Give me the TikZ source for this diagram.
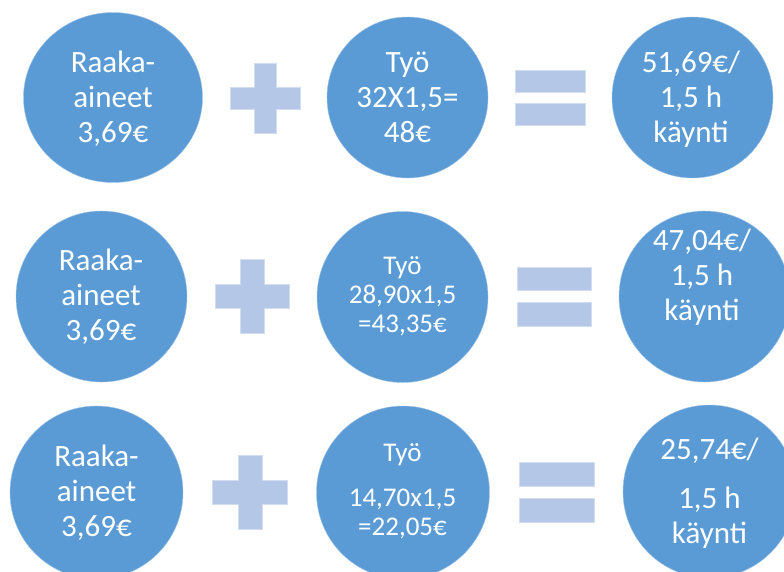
\documentclass[tikz,border=0pt]{standalone}
\usepackage{fontspec}
\setmainfont{Carlito}
\usetikzlibrary{shapes.geometric}
\definecolor{circblue}{HTML}{5B9BD5}
\definecolor{oplight}{HTML}{B4C7E7}
\tikzset{
  disc/.style={circle, fill=circblue, draw=circblue!60!white, line width=0.4pt, inner sep=0pt},
  oval/.style={ellipse, fill=circblue, draw=circblue!60!white, line width=0.4pt, inner sep=0pt},
  bigtxt/.style={anchor=base, text=white, inner sep=0pt, font=\fontsize{31}{35}\selectfont},
  smalltxt/.style={anchor=base, text=white, inner sep=0pt, font=\fontsize{27}{29}\selectfont},
  opshape/.style={fill=oplight, draw=oplight!60!white, line width=0.4pt}
}
\begin{document}
\begin{tikzpicture}[x=1pt,y=-1pt]
\useasboundingbox (0,0) rectangle (784,571);
\clip (0,0) rectangle (784,571);
% ---------- Row 1 ----------
\node[oval, minimum width=179pt, minimum height=170pt] (a1) at (113,97.5) {};
\node[disc, minimum size=161pt] (b1) at (407.5,97.5) {};
\node[disc, minimum size=161pt] (c1) at (692.5,97.5) {};
\node[bigtxt] (a1l1) at (113,72) {Raaka-};
\node[bigtxt] (a1l2) at (113,107) {aineet};
\node[bigtxt] (a1l3) at (113,142) {3,69€};
\node[bigtxt] (b1l1) at (407.5,72) {Työ};
\node[bigtxt] (b1l2) at (407.5,107) {32X1,5=};
\node[bigtxt] (b1l3) at (407.5,142) {48€};
\node[bigtxt] (c1l1) at (691,72) {51,69€/};
\node[bigtxt] (c1l2) at (691,107) {1,5 h};
\node[bigtxt] (c1l3) at (691,142) {käynti};
\fill[opshape] (230,87) -- (254,87) -- (254,63) -- (276,63) -- (276,87) -- (300,87) -- (300,109) -- (276,109) -- (276,133) -- (254,133) -- (254,109) -- (230,109) -- cycle;
\fill[opshape] (515,70) rectangle (585,92);
\fill[opshape] (515,103) rectangle (585,125);
% ---------- Row 2 ----------
\node[disc, minimum size=171pt] (a2) at (101.5,296.5) {};
\node[disc, minimum size=171pt] (b2) at (402.5,297) {};
\node[disc, minimum size=171pt] (c2) at (704.5,296.5) {};
\node[bigtxt] (a2l1) at (101,270) {Raaka-};
\node[bigtxt] (a2l2) at (101,305) {aineet};
\node[bigtxt] (a2l3) at (101,340) {3,69€};
\node[smalltxt] (b2l1) at (402.5,274) {Työ};
\node[smalltxt] (b2l2) at (402.5,303) {28,90x1,5};
\node[smalltxt] (b2l3) at (402.5,332) {=43,35€};
\node[bigtxt] (c2l1) at (702,250) {47,04€/};
\node[bigtxt] (c2l2) at (702,285) {1,5 h};
\node[bigtxt] (c2l3) at (702,320) {käynti};
\fill[opshape] (215,284) -- (240,284) -- (240,259) -- (264,259) -- (264,284) -- (289,284) -- (289,308) -- (264,308) -- (264,333) -- (240,333) -- (240,308) -- (215,308) -- cycle;
\fill[opshape] (517,267) rectangle (591,290);
\fill[opshape] (517,302) rectangle (591,326);
% ---------- Row 3 ----------
\node[disc, minimum size=173pt] (a3) at (96.5,492.5) {};
\node[disc, minimum size=173pt] (b3) at (403,492.5) {};
\node[disc, minimum size=173pt] (c3) at (709.5,491.5) {};
\node[bigtxt] (a3l1) at (96.5,466) {Raaka-};
\node[bigtxt] (a3l2) at (96.5,501) {aineet};
\node[bigtxt] (a3l3) at (96.5,536) {3,69€};
\node[smalltxt] (b3l1) at (402.5,461) {Työ};
\node[smalltxt] (b3l2) at (402.5,506) {14,70x1,5};
\node[smalltxt] (b3l3) at (402.5,535) {=22,05€};
\node[bigtxt] (c3l1) at (709.5,459) {25,74€/};
\node[bigtxt] (c3l2) at (709.5,508) {1,5 h};
\node[bigtxt] (c3l3) at (709.5,543) {käynti};
\fill[opshape] (212,480) -- (238,480) -- (238,455) -- (262,455) -- (262,480) -- (287,480) -- (287,504) -- (262,504) -- (262,529) -- (238,529) -- (238,504) -- (212,504) -- cycle;
\fill[opshape] (519,462) rectangle (594,486);
\fill[opshape] (519,498) rectangle (594,522);
\end{tikzpicture}
\end{document}
